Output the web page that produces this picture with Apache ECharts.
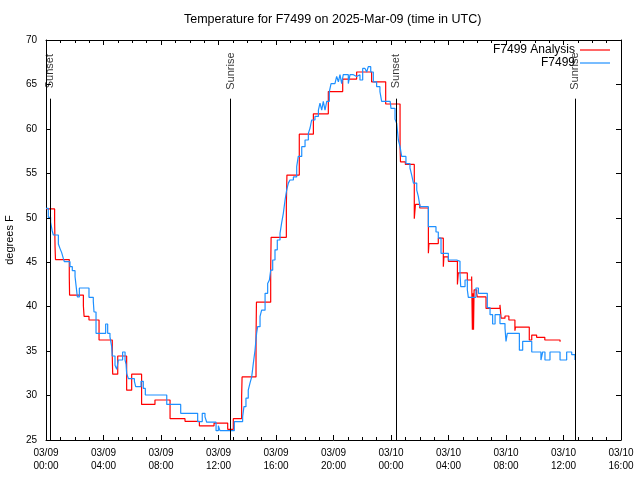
<!DOCTYPE html>
<html><head><meta charset="utf-8">
<script src="https://cdn.jsdelivr.net/npm/echarts@6/dist/echarts.min.js"></script>
<style>html,body{margin:0;padding:0;background:#fff}#c{width:640px;height:480px}</style>
</head><body><div id="c"></div>
<script>
// hours since 03/09 00:00 UTC
const analysisTimes = [0, 0.6, 0.63, 0.66, 1.62, 1.64, 2.6, 2.65, 2.99, 3.69, 4.61, 4.64, 4.99, 5.61, 5.96, 6.65, 7.58, 8.63, 9.67, 10.67, 11.69, 12.64, 13.03, 13.61, 13.64, 14.61, 14.64, 15.63, 15.66, 16.72, 16.76, 17.62, 18.6, 19.64, 20.64, 21.61, 22.65, 23.63, 24.63, 24.66, 25.0, 25.62, 25.7, 26.0, 26.6, 26.64, 27.29, 27.64, 27.68, 27.99, 28.62, 28.68, 29.31, 29.61, 29.66, 29.7, 29.74, 29.78, 29.96, 30.0, 30.61, 31.58, 31.66, 31.93, 32.2, 32.62, 32.66, 33.62, 33.79, 34.13, 34.7, 35.76];
const analysisTemps = [51.0, 49.6, 46.7, 45.3, 43.4, 41.3, 40.1, 38.9, 38.5, 36.25, 34.45, 32.4, 34.45, 30.6, 32.4, 29.0, 29.5, 27.4, 27.1, 26.6, 26.9, 26.2, 27.4, 29.9, 32.1, 36.4, 40.5, 44.1, 47.8, 51.5, 54.8, 59.4, 61.7, 64.2, 65.6, 66.4, 65.3, 62.8, 58.0, 56.3, 56.0, 49.9, 51.5, 51.1, 46.0, 47.1, 47.7, 44.5, 45.6, 45.1, 42.5, 43.8, 43.0, 43.4, 37.4, 41.5, 37.4, 41.9, 41.5, 41.1, 39.8, 40.2, 38.7, 38.95, 38.5, 37.3, 37.7, 36.25, 36.8, 36.55, 36.25, 36.06];

const obsTimes = [0.0, 0.16, 0.32, 0.42, 0.51, 0.86, 0.97, 1.09, 1.21, 1.28, 1.67, 1.83, 2.02, 2.09, 2.18, 2.32, 2.99, 3.29, 3.34, 3.48, 4.15, 4.29, 4.45, 4.57, 4.61, 4.8, 4.92, 5.03, 5.33, 5.5, 5.57, 5.61, 5.73, 6.15, 6.24, 6.61, 6.77, 6.91, 8.4, 9.37, 10.55, 10.87, 11.06, 11.18, 11.83, 11.99, 12.1, 13.1, 13.68, 13.77, 13.91, 14.07, 14.19, 14.31, 14.42, 14.54, 14.65, 14.72, 14.89, 15.0, 15.24, 15.42, 15.54, 15.63, 15.77, 15.93, 16.09, 16.28, 16.39, 16.51, 16.63, 16.74, 16.86, 16.97, 17.21, 17.44, 17.55, 17.79, 18.02, 18.25, 18.37, 18.48, 18.71, 18.95, 19.06, 19.18, 19.29, 19.41, 19.53, 19.71, 19.83, 20.1, 20.22, 20.34, 20.45, 20.57, 20.68, 21.03, 21.15, 21.38, 21.61, 21.84, 22.03, 22.19, 22.31, 22.42, 22.59, 22.77, 23.0, 23.23, 23.35, 23.94, 24.0, 24.28, 24.4, 24.51, 24.63, 24.74, 25.04, 25.32, 25.44, 25.56, 25.79, 25.9, 26.02, 26.6, 27.13, 27.29, 27.48, 27.99, 28.57, 28.8, 28.85, 29.15, 29.31, 29.38, 29.91, 30.08, 30.7, 30.89, 31.07, 31.24, 31.58, 31.93, 32.0, 32.09, 32.93, 33.16, 33.79, 34.43, 34.55, 34.71, 35.06, 35.76, 36.22, 36.57, 36.8];
const obsTemps = [51.06, 50.05, 49.5, 48.6, 48.06, 47.05, 46.56, 46.08, 45.4, 45.06, 44.5, 44.05, 43.4, 42.4, 41.1, 42.1, 41.05, 40.6, 39.4, 37.0, 38.05, 37.0, 36.6, 35.5, 34.45, 33.4, 32.95, 34.0, 34.9, 34.0, 33.5, 32.5, 31.9, 31.6, 31.0, 31.6, 30.8, 30.06, 29.0, 28.0, 27.07, 28.0, 27.6, 27.0, 26.05, 26.6, 26.05, 27.07, 27.63, 28.75, 29.7, 30.6, 31.4, 32.1, 33.6, 35.1, 37.0, 37.75, 38.9, 39.6, 41.5, 42.6, 43.0, 44.1, 45.25, 46.4, 47.5, 48.25, 49.4, 50.5, 52.0, 53.1, 53.9, 54.25, 54.6, 55.75, 56.9, 58.0, 58.75, 59.5, 60.1, 61.0, 61.4, 62.1, 62.9, 62.1, 63.1, 62.1, 63.1, 64.2, 65.1, 65.3, 65.9, 65.3, 66.1, 65.1, 66.1, 65.1, 66.1, 65.9, 66.1, 65.5, 66.8, 67.0, 66.4, 67.0, 66.4, 65.3, 64.75, 64.2, 63.1, 62.9, 62.3, 61.1, 60.6, 58.75, 58.0, 56.9, 56.1, 55.6, 54.8, 53.9, 53.1, 52.4, 51.25, 49.0, 48.4, 47.7, 46.0, 45.25, 45.1, 43.75, 42.25, 43.0, 41.9, 41.05, 42.1, 41.5, 39.9, 39.1, 38.05, 39.1, 38.1, 37.6, 36.1, 37.0, 35.1, 36.1, 34.9, 34.0, 34.9, 34.0, 34.9, 34.0, 34.9, 34.6, 34.0];

const xTickLabels = ['03/09\n00:00', '03/09\n04:00', '03/09\n08:00', '03/09\n12:00', '03/09\n16:00', '03/09\n20:00', '03/10\n00:00', '03/10\n04:00', '03/10\n08:00', '03/10\n12:00', '03/10\n16:00'];
const sunTimes = [0.28, 12.85, 24.35, 36.8];
const sunNames = ['Sunset', 'Sunrise', 'Sunset', 'Sunrise'];

const FONT = 'Liberation Sans';
const analysisData = analysisTimes.map((t, i) => [t, analysisTemps[i]]);
const obsData = obsTimes.map((t, i) => [t, obsTemps[i]]);

function xAx(pos, labels) {
  return {
    type: 'value', position: pos, min: 0, max: 40, interval: 4,
    axisLine: { show: true, onZero: false, lineStyle: { color: '#000', width: 1 } },
    axisTick: { show: true, inside: true, length: 5, lineStyle: { color: '#000' } },
    minorTick: { show: true, splitNumber: 4, length: 3, lineStyle: { color: '#000' } },
    splitLine: { show: false },
    axisLabel: labels ? { show: true, color: '#000', fontFamily: FONT, fontSize: 10, lineHeight: 13, margin: 7,
      formatter: v => xTickLabels[Math.round(v / 4)] } : { show: false }
  };
}
function yAx(pos, labels) {
  const a = {
    type: 'value', position: pos, min: 25, max: 70, interval: 5,
    axisLine: { show: true, onZero: false, lineStyle: { color: '#000', width: 1 } },
    axisTick: { show: true, inside: true, length: 5, lineStyle: { color: '#000' } },
    splitLine: { show: false },
    axisLabel: labels ? { show: true, color: '#000', fontFamily: FONT, fontSize: 10, margin: 9 } : { show: false }
  };
  if (labels) {
    a.name = 'degrees F'; a.nameLocation = 'middle'; a.nameGap = 31; a.nameRotate = 90;
    a.nameTextStyle = { color: '#000', fontFamily: FONT, fontSize: 11 };
  }
  return a;
}

const chart = echarts.init(document.getElementById('c'), null, { renderer: 'canvas' });
chart.setOption({
  animation: false,
  backgroundColor: '#fff',
  title: { text: 'Temperature for F7499 on 2025-Mar-09 (time in UTC)', left: 184, top: 13, padding: 0,
    textStyle: { color: '#000', fontFamily: FONT, fontSize: 12.5, fontWeight: 'normal' } },
  grid: { left: 46, right: 19, top: 40, bottom: 40, containLabel: false, outerBoundsMode: 'none' },
  legend: [
    { data: ['F7499 Analysis'], right: 30, top: 44, align: 'right', icon: 'rect', itemWidth: 30, itemHeight: 1.2, padding: 0,
      textStyle: { color: '#000', fontFamily: FONT, fontSize: 12 } },
    { data: ['F7499'], right: 30, top: 57, align: 'right', icon: 'rect', itemWidth: 30, itemHeight: 1.2, padding: 0,
      textStyle: { color: '#000', fontFamily: FONT, fontSize: 12 } }
  ],
  xAxis: [xAx('bottom', true), xAx('top', false)],
  yAxis: [yAx('left', true), yAx('right', false)],
  series: [
    { name: 'F7499 Analysis', type: 'line', step: 'end', data: analysisData, showSymbol: false, symbol: 'none',
      lineStyle: { color: '#ff0000', width: 1.2 }, itemStyle: { color: '#ff0000' }, z: 3 },
    { name: 'F7499', type: 'line', step: 'end', data: obsData, showSymbol: false, symbol: 'none',
      lineStyle: { color: '#1e90ff', width: 1.2 }, itemStyle: { color: '#1e90ff' }, z: 4 },
    { name: 'sun', type: 'scatter', data: sunTimes.map(t => [t, 66.5]), symbolSize: 0, silent: true, z: 5,
      label: { show: true, position: 'inside', rotate: 90, color: '#000', fontFamily: FONT, fontSize: 11,
        formatter: p => sunNames[p.dataIndex] },
      markLine: { silent: true, symbol: ['none', 'none'], label: { show: false },
        lineStyle: { color: '#000', type: 'solid', width: 1 },
        data: sunTimes.map(t => [{ coord: [t, 25] }, { coord: [t, 63.4] }]) } }
  ]
});
</script>
</body></html>
